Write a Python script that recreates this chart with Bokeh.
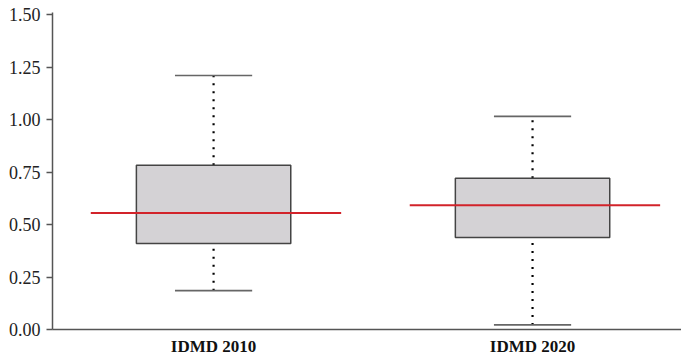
from bokeh.plotting import figure
from bokeh.models import Range1d, FixedTicker, ColumnDataSource, PrintfTickFormatter
from bokeh.embed import file_html
from bokeh.resources import INLINE

# ---- data ----
categories = ["IDMD 2010", "IDMD 2020"]
q1 = [0.41, 0.438]
q3 = [0.782, 0.72]
whisker_low = [0.185, 0.022]
whisker_high = [1.21, 1.015]
center_line = [0.555, 0.592]
y_ticks = [0.0, 0.25, 0.5, 0.75, 1.0, 1.25, 1.5]

pos = [i + 1 for i in range(len(categories))]

BOX_HALF = 0.242
CAP_HALF = 0.121
LINE_LEFT = 0.385
LINE_RIGHT = 0.40

src = ColumnDataSource(dict(
    x=pos, q1=q1, q3=q3, lo=whisker_low, hi=whisker_high, mid=center_line,
    bl=[x - BOX_HALF for x in pos], br=[x + BOX_HALF for x in pos],
    cl=[x - CAP_HALF for x in pos], cr=[x + CAP_HALF for x in pos],
    ml=[x - LINE_LEFT for x in pos], mr=[x + LINE_RIGHT for x in pos],
))

p = figure(width=681, height=358, output_backend="svg", toolbar_location=None,
           x_range=Range1d(0.495, 2.467), y_range=Range1d(0, 1.51),
           min_border_left=52, min_border_right=0, min_border_top=12, min_border_bottom=28)
p.outline_line_color = None
p.grid.grid_line_color = None
p.background_fill_color = "white"

# whiskers (dotted)
p.segment(x0="x", y0="q3", x1="x", y1="hi", source=src, line_color="black",
          line_width=2.2, line_dash="2 6")
p.segment(x0="x", y0="lo", x1="x", y1="q1", source=src, line_color="black",
          line_width=2.2, line_dash="2 6")
# caps
p.segment(x0="cl", y0="hi", x1="cr", y1="hi", source=src, line_color="#666666", line_width=1.6)
p.segment(x0="cl", y0="lo", x1="cr", y1="lo", source=src, line_color="#666666", line_width=1.6)
# boxes
p.quad(left="bl", right="br", bottom="q1", top="q3", source=src,
       fill_color="#d4d2d5", line_color="#444444", line_width=1.5)
# red lines
p.segment(x0="ml", y0="mid", x1="mr", y1="mid", source=src, line_color="#d2232a", line_width=2)

# y axis
ya = p.yaxis[0]
ya.ticker = FixedTicker(ticks=y_ticks)
ya.formatter = PrintfTickFormatter(format="%.2f")
ya.axis_line_color = "#555555"
ya.axis_line_width = 1.5
ya.major_tick_line_color = "#555555"
ya.major_tick_line_width = 1.5
ya.major_tick_in = 0
ya.major_tick_out = 6
ya.minor_tick_line_color = None
ya.major_label_text_font = "Liberation Serif"
ya.major_label_text_font_size = "18px"
ya.major_label_text_color = "#222222"
ya.major_label_standoff = 6

# x axis
xa = p.xaxis[0]
xa.ticker = FixedTicker(ticks=pos)
xa.major_label_overrides = {x: c for x, c in zip(pos, categories)}
xa.axis_line_color = "#555555"
xa.axis_line_width = 1.5
xa.major_tick_line_color = None
xa.major_tick_out = 0
xa.major_tick_in = 0
xa.minor_tick_line_color = None
xa.major_label_text_font = "Liberation Serif"
xa.major_label_text_font_style = "bold"
xa.major_label_text_font_size = "17px"
xa.major_label_text_color = "#111111"
xa.major_label_standoff = 7

open("out.html", "w").write(file_html(p, INLINE))
